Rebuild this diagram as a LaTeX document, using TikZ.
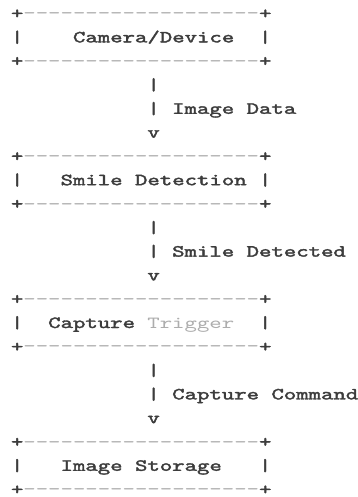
\documentclass[tikz,border=0pt]{standalone}
\usepackage{fontspec}
\usepackage{graphicx}
\newfontfamily\ascb{lmmono10-regular}[Extension=.otf, FakeBold=1.8]
\newfontfamily\ascr{lmmono10-regular}[Extension=.otf]
\definecolor{ink}{HTML}{3C3C3C}
\definecolor{dashc}{HTML}{A6A6A6}
\definecolor{faint}{HTML}{ADADAD}
\newcommand{\st}[1]{\scalebox{1.39}[1]{#1}}
\newcommand{\bdr}{\st{\textcolor{ink}{+}{\ascr\textcolor{dashc}{-------------------}}\textcolor{ink}{+}}}
\tikzset{asc/.style={anchor=base west, inner sep=0pt, font=\ascb\fontsize{17}{17}\selectfont, text=ink}}
\newcommand{\cx}[1]{{10.8+#1*12.4}}
\newcommand{\ly}[1]{{18.6+(#1-1)*23.8}}
\begin{document}
\begin{tikzpicture}[x=1pt,y=-1pt]
\useasboundingbox[fill=white] (0,0) rectangle (358,497);
% box 1
\node[asc] (b1t) at (\cx{0},\ly{1}) {\bdr};
\node[asc] (b1l) at (\cx{0},\ly{2}) {\st{|}};
\node[asc] (b1x) at (\cx{5},\ly{2}) {\st{Camera/Device}};
\node[asc] (b1r) at (\cx{20},\ly{2}) {\st{|}};
\node[asc] (b1b) at (\cx{0},\ly{3}) {\bdr};
% arrow 1
\node[asc] (a1a) at (\cx{11},\ly{4}) {\st{|}};
\node[asc] (a1b) at (\cx{11},\ly{5}) {\st{|}};
\node[asc] (a1t) at (\cx{13},\ly{5}) {\st{Image Data}};
\node[asc] (a1v) at (\cx{11},\ly{6}) {\st{v}};
% box 2
\node[asc] (b2t) at (\cx{0},\ly{7}) {\bdr};
\node[asc] (b2l) at (\cx{0},\ly{8}) {\st{|}};
\node[asc] (b2x) at (\cx{4},\ly{8}) {\st{Smile Detection}};
\node[asc] (b2r) at (\cx{20},\ly{8}) {\st{|}};
\node[asc] (b2b) at (\cx{0},\ly{9}) {\bdr};
% arrow 2
\node[asc] (a2a) at (\cx{11},\ly{10}) {\st{|}};
\node[asc] (a2b) at (\cx{11},\ly{11}) {\st{|}};
\node[asc] (a2t) at (\cx{13},\ly{11}) {\st{Smile Detected}};
\node[asc] (a2v) at (\cx{11},\ly{12}) {\st{v}};
% box 3
\node[asc] (b3t) at (\cx{0},\ly{13}) {\bdr};
\node[asc] (b3l) at (\cx{0},\ly{14}) {\st{|}};
\node[asc] (b3x) at (\cx{3},\ly{14}) {\st{Capture}};
\node[asc, text=faint, font=\ascr\fontsize{17}{17}\selectfont] (b3y) at (\cx{11},\ly{14}) {\st{Trigger}};
\node[asc] (b3r) at (\cx{20},\ly{14}) {\st{|}};
\node[asc] (b3b) at (\cx{0},\ly{15}) {\bdr};
% arrow 3
\node[asc] (a3a) at (\cx{11},\ly{16}) {\st{|}};
\node[asc] (a3b) at (\cx{11},\ly{17}) {\st{|}};
\node[asc] (a3t) at (\cx{13},\ly{17}) {\st{Capture Command}};
\node[asc] (a3v) at (\cx{11},\ly{18}) {\st{v}};
% box 4
\node[asc] (b4t) at (\cx{0},\ly{19}) {\bdr};
\node[asc] (b4l) at (\cx{0},\ly{20}) {\st{|}};
\node[asc] (b4x) at (\cx{4},\ly{20}) {\st{Image Storage}};
\node[asc] (b4r) at (\cx{20},\ly{20}) {\st{|}};
\node[asc] (b4b) at (\cx{0},\ly{21}) {\bdr};
\end{tikzpicture}
\end{document}
